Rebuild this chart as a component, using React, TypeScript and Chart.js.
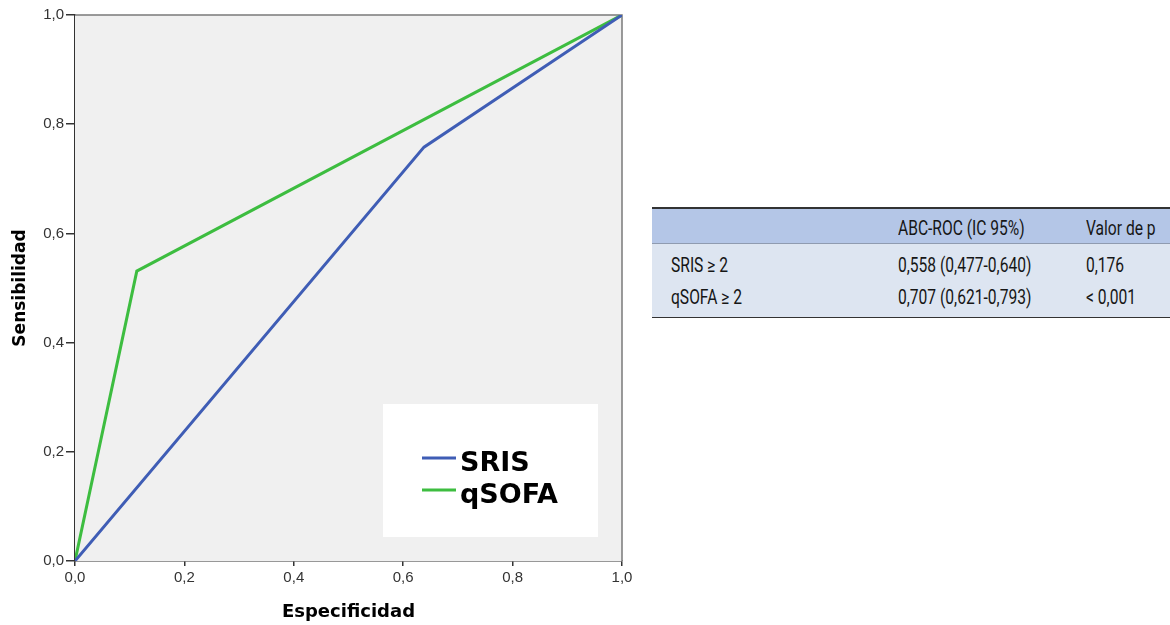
import React, { useEffect, useRef } from "react";
import { Chart, registerables } from "chart.js";

Chart.register(...registerables);

// ROC curve points: x = especificidad axis value, y = sensibilidad
const srisX = [0, 0.638, 1];
const srisY = [0, 0.758, 1];
const qsofaX = [0, 0.113, 1];
const qsofaY = [0, 0.531, 1];

const seriesNames = ["SRIS", "qSOFA"];
const seriesColors = ["#3f5db5", "#3dbd40"];

// Summary table
const tableHeader = ["", "ABC-ROC (IC 95%)", "Valor de p"];
const tableRows = [
  ["SRIS \u2265 2", "0,558 (0,477-0,640)", "0,176"],
  ["qSOFA \u2265 2", "0,707 (0,621-0,793)", "< 0,001"],
];

const fmt = (v: number) => v.toFixed(1).replace(".", ",");

const plotFrame = {
  id: "plotFrame",
  beforeDatasetsDraw(chart: any) {
    const { ctx, chartArea: a } = chart;
    ctx.save();
    ctx.fillStyle = "#f0f0f0";
    ctx.fillRect(a.left, a.top, a.right - a.left, a.bottom - a.top);
    ctx.strokeStyle = "#7a7a7a";
    ctx.lineWidth = 1.5;
    ctx.beginPath();
    ctx.moveTo(a.left, a.top);
    ctx.lineTo(a.right, a.top);
    ctx.lineTo(a.right, a.bottom);
    ctx.stroke();
    ctx.restore();
  },
};

const boxLegend = {
  id: "boxLegend",
  afterDatasetsDraw(chart: any) {
    const { ctx, chartArea: a } = chart;
    const bx = a.left + 308;
    const by = a.top + 389;
    ctx.save();
    ctx.fillStyle = "#ffffff";
    ctx.fillRect(bx, by, 215, 133);
    ctx.font = 'bold 27px "DejaVu Sans"';
    ctx.textBaseline = "alphabetic";
    ctx.textAlign = "left";
    chart.data.datasets.forEach((ds: any, i: number) => {
      const ly = by + 54 + i * 32;
      ctx.strokeStyle = ds.borderColor;
      ctx.lineWidth = 3;
      ctx.beginPath();
      ctx.moveTo(bx + 39, ly);
      ctx.lineTo(bx + 73, ly);
      ctx.stroke();
      ctx.fillStyle = "#000000";
      ctx.fillText(ds.label, bx + 77, ly + 13);
    });
    ctx.restore();
  },
};

function RocChart() {
  const ref = useRef<HTMLCanvasElement | null>(null);
  useEffect(() => {
    if (!ref.current) return;
    const toPts = (xs: number[], ys: number[]) => xs.map((x, i) => ({ x, y: ys[i] }));
    const tickFont = { family: '"Liberation Sans", Arial, sans-serif', size: 15 };
    const xTitleFont = { family: '"DejaVu Sans", sans-serif', size: 18, weight: "bold" as const };
    const yTitleFont = { family: '"DejaVu Sans", sans-serif', size: 17, weight: "bold" as const };
    const chart = new Chart(ref.current, {
      type: "line",
      data: {
        datasets: [
          {
            label: seriesNames[0],
            data: toPts(srisX, srisY),
            borderColor: seriesColors[0],
            borderWidth: 3,
            pointRadius: 0,
            tension: 0,
          },
          {
            label: seriesNames[1],
            data: toPts(qsofaX, qsofaY),
            borderColor: seriesColors[1],
            borderWidth: 3,
            pointRadius: 0,
            tension: 0,
          },
        ],
      },
      options: {
        animation: false,
        responsive: false,
        layout: { padding: { left: 0, top: 15, right: 18, bottom: 0 } },
        plugins: { legend: { display: false }, tooltip: { enabled: false } },
        scales: {
          x: {
            type: "linear",
            min: 0,
            max: 1,
            afterFit: (s: any) => {
              s.height = 64;
            },
            ticks: { stepSize: 0.2, callback: (v: any) => fmt(Number(v)), font: tickFont, color: "#333333", padding: 3 },
            grid: { drawOnChartArea: false, drawTicks: true, tickLength: 5, color: "#333333", lineWidth: 1.5 },
            border: { display: true, color: "#333333", width: 1.5 },
            title: { display: true, text: "Especificidad", font: xTitleFont, color: "#000000", padding: { top: 0, bottom: 2 } },
          },
          y: {
            type: "linear",
            min: 0,
            max: 1,
            afterFit: (s: any) => {
              s.width = 75;
            },
            ticks: { stepSize: 0.2, callback: (v: any) => fmt(Number(v)), font: tickFont, color: "#333333", padding: 2 },
            grid: { drawOnChartArea: false, drawTicks: true, tickLength: 9, color: "#333333", lineWidth: 1.5 },
            border: { display: true, color: "#333333", width: 1.5 },
            title: { display: true, text: "Sensibilidad", font: yTitleFont, color: "#000000", padding: { top: 10, bottom: 0 } },
          },
        },
      },
      plugins: [plotFrame, boxLegend],
    });
    return () => chart.destroy();
  }, []);
  return <canvas ref={ref} width={640} height={625} style={{ position: "absolute", left: 0, top: 0 }} />;
}

const cellFont = 'Roboto, "Noto Sans", sans-serif';
const colX = [19, 246, 434];

function SummaryTable() {
  const rowBox = (cells: string[], top: number, height: number) => (
    <div style={{ position: "absolute", left: 0, top, width: 518, height }}>
      {cells.map((c, i) => (
        <div
          key={i}
          style={{
            position: "absolute",
            left: colX[i],
            top: 0,
            height,
            lineHeight: height + "px",
            whiteSpace: "nowrap",
            transform: "scaleX(0.78)",
            transformOrigin: "left center",
          }}
        >
          {c}
        </div>
      ))}
    </div>
  );
  return (
    <div
      style={{
        position: "absolute",
        left: 652,
        top: 207,
        width: 518,
        height: 111,
        fontFamily: cellFont,
        fontSize: 20,
        color: "#161616",
      }}
    >
      <div style={{ position: "absolute", left: 0, top: 0, width: 518, height: 37, background: "#b4c6e7" }} />
      <div style={{ position: "absolute", left: 0, top: 37, width: 518, height: 73, background: "#dde5f1" }} />
      <div style={{ position: "absolute", left: 0, top: 0, width: 518, height: 1.5, background: "#333333" }} />
      <div style={{ position: "absolute", left: 0, top: 36, width: 518, height: 1, background: "#8f9bb0" }} />
      <div style={{ position: "absolute", left: 0, top: 109.5, width: 518, height: 1.5, background: "#333333" }} />
      {rowBox(tableHeader, 2, 38)}
      {rowBox(tableRows[0], 41, 34)}
      {rowBox(tableRows[1], 73, 34)}
    </div>
  );
}

export default function App() {
  return (
    <div style={{ position: "fixed", left: 0, top: 0, width: 1170, height: 625, background: "#ffffff", overflow: "hidden" }}>
      <RocChart />
      <SummaryTable />
    </div>
  );
}
